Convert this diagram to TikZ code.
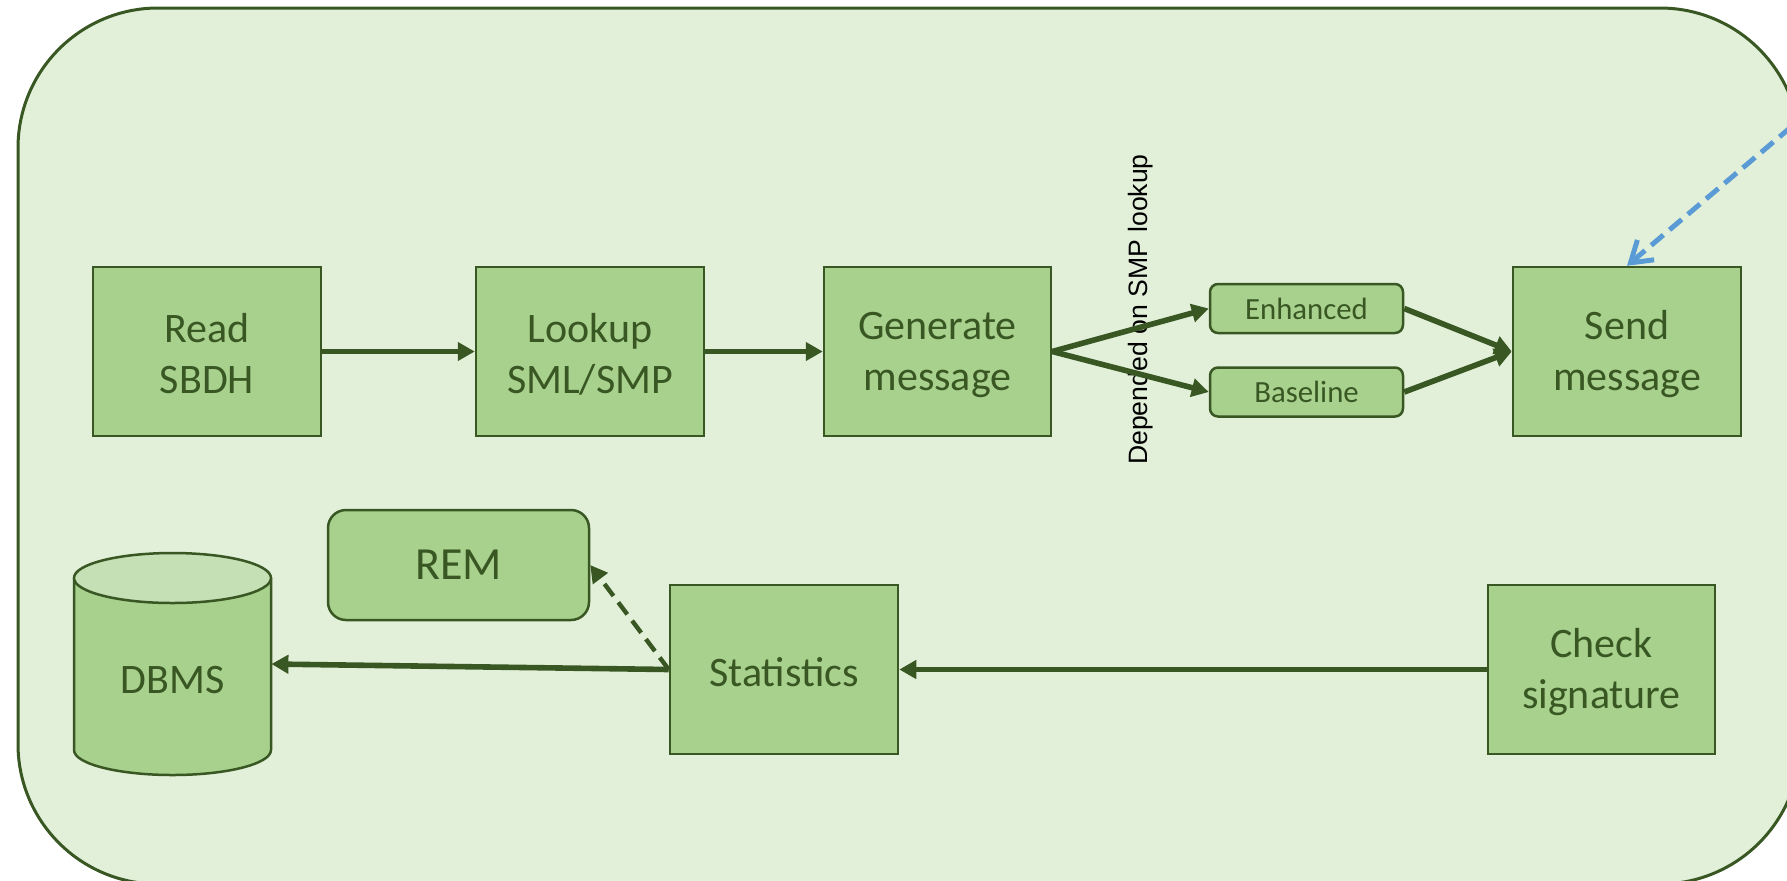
\documentclass[tikz,border=0pt]{standalone}
\usepackage{fontspec}
\setmainfont{Carlito}
\newfontfamily\arialf{Liberation Sans}
\usetikzlibrary{arrows.meta}
\definecolor{dkg}{HTML}{385723}
\definecolor{boxg}{HTML}{A9D18E}
\definecolor{bgg}{HTML}{E2F0D9}
\definecolor{topg}{HTML}{C5E0B4}
\definecolor{blu}{HTML}{5B9BD5}
\begin{document}
\begin{tikzpicture}[x=0.5pt,y=-0.5pt,
  proc/.style={draw=dkg, fill=boxg, line width=1.25pt, minimum width=114pt, minimum height=84.5pt, inner sep=0pt, text=dkg, align=center, font=\fontsize{21}{25.5}\selectfont},
  smallbox/.style={draw=dkg, fill=boxg, line width=1.25pt, rounded corners=4pt, minimum width=96.5pt, minimum height=24.5pt, inner sep=0pt, text=dkg, font=\fontsize{15.4}{18}\selectfont},
  conn/.style={draw=dkg, line width=2.8pt, -{Triangle[length=8.5pt,width=9pt]}},
]
\useasboundingbox (0,0) rectangle (1787,880);
\clip (0,0) rectangle (1787,880);
\draw[draw=dkg, fill=bgg, line width=1.5pt, rounded corners=70pt] (18,8) rectangle (1800,884);

\node[proc] (read) at (207,351.5) {\rule{0pt}{17pt}Read\\SBDH};
\node[proc] (lookup) at (590,351.5) {\rule{0pt}{17pt}Lookup\\SML/SMP};
\node[proc, minimum width=113.5pt] (gen) at (937.5,351.5) {\rule{0pt}{17pt}Generate\\message};
\node[smallbox] (enh) at (1306.5,308.5) {Enhanced};
\node[smallbox] (base) at (1306.5,392) {Baseline};
\node[proc] (send) at (1627,351.5) {\rule{0pt}{17pt}Send\\message};
\node[proc, rounded corners=9pt, minimum width=130.5pt, minimum height=55pt, font=\fontsize{23}{27}\selectfont] (rem) at (458.5,565) {REM};
\node[proc] (stat) at (784,669.5) {\rule{0pt}{17pt}Statistics};
\node[proc, minimum width=113.5pt] (check) at (1601.5,669.5) {\rule{0pt}{17pt}Check\\signature};

% DBMS cylinder
\path[draw=dkg, fill=boxg, line width=1.25pt] (74,578) -- (74,750) arc[start angle=180, end angle=0, x radius=98.5, y radius=25] -- (271,578);
\draw[draw=dkg, fill=topg, line width=1.25pt] (172.5,578) ellipse[x radius=98.5, y radius=25];
\node[text=dkg, font=\fontsize{21}{25.5}\selectfont, minimum width=98.5pt, inner sep=0pt] (dbms) at (172.5,680) {DBMS};

\node[rotate=90, anchor=base, inner sep=0pt, font=\arialf\fontsize{13.3}{16}\selectfont] (dep) at (1147,309.5) {Depended on SMP lookup};

\draw[conn] (read) -- (lookup);
\draw[conn] (lookup) -- (gen);
\draw[conn] (gen.east) -- (enh.west);
\draw[conn] (gen.east) -- (base.west);
\draw[conn] (enh.east) -- (send.west);
\draw[conn] (base.east) -- (send.west);
\draw[conn] (check) -- (stat);
\draw[conn] (stat.west) -- ([yshift=8pt]dbms.east);
\draw[conn, line width=2.2pt, dash pattern=on 7.5pt off 4pt] (stat.west) -- (rem.east);

\coordinate (bs) at (1810,111);
\draw[blu, line width=2.5pt, dash pattern=on 8pt off 4pt, -{Straight Barb[length=10pt,width=13pt]}] (bs) -- (send.north);
\end{tikzpicture}
\end{document}
